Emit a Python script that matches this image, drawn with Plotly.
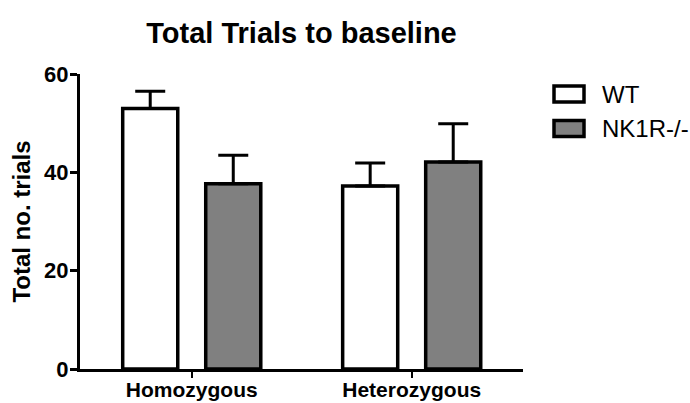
import plotly.graph_objects as go

categories = ["Homozygous", "Heterozygous"]
wt_values = [53.0, 37.2]
wt_errors = [3.5, 4.7]
nk_values = [37.7, 42.1]
nk_errors = [5.8, 7.8]
series_names = ["WT", "NK1R-/-"]
y_ticks = [0, 20, 40, 60]

FONT = "Liberation Sans, Arial, sans-serif"

# plot area pixels
L, R, T, B = 80, 523, 74, 369
W, H = 690, 403

def px_x(px):
    return (px - L) / (R - L)

def px_y(py):
    return (B - py) / (B - T)

fig = go.Figure()
fig.add_trace(go.Bar(
    x=categories, y=wt_values, name=series_names[0],
    marker=dict(color="white", line=dict(color="black", width=3.5)),
    error_y=dict(type="data", array=wt_errors, arrayminus=[0, 0], symmetric=False,
                 color="black", thickness=3, width=15),
    showlegend=False,
))
fig.add_trace(go.Bar(
    x=categories, y=nk_values, name=series_names[1],
    marker=dict(color="#808080", line=dict(color="black", width=3.5)),
    error_y=dict(type="data", array=nk_errors, arrayminus=[0, 0], symmetric=False,
                 color="black", thickness=3, width=15),
    showlegend=False,
))

shapes = []
annotations = []
legend_fill = ["white", "#808080"]
legend_rows = [(85, 103), (119.5, 137.5)]
for name, fill, (y0, y1) in zip(series_names, legend_fill, legend_rows):
    shapes.append(dict(type="rect", xref="paper", yref="paper",
                       x0=px_x(554), x1=px_x(584), y0=px_y(y1 - 1), y1=px_y(y0 + 1),
                       fillcolor=fill, line=dict(color="black", width=3.5)))
    annotations.append(dict(xref="paper", yref="paper", x=px_x(600), y=px_y((y0 + y1) / 2),
                            text=name, showarrow=False, xanchor="left", yanchor="middle",
                            font=dict(family=FONT, size=24, color="black")))

fig.update_layout(
    width=W, height=H,
    margin=dict(l=L, r=W - R, t=T, b=H - B, pad=0, autoexpand=False),
    paper_bgcolor="white", plot_bgcolor="white",
    barmode="group", bargap=0.245, bargroupgap=0.337,
    title=dict(text="Total Trials to baseline", x=(L + R) / 2 / W, xanchor="center",
               y=1 - 33 / H, yanchor="middle", yref="container",
               font=dict(family=FONT, size=29, color="black", weight="bold")),
    shapes=shapes, annotations=annotations,
    font=dict(family=FONT, color="black"),
)
fig.update_xaxes(
    type="category", range=[-0.508, 1.506], automargin=False,
    showline=True, linecolor="black", linewidth=3,
    ticks="outside", ticklen=6, tickwidth=2, tickcolor="black",
    ticklabelstandoff=-6,
    tickfont=dict(family=FONT, size=21, color="black", weight="bold"),
    showgrid=False, zeroline=False,
)
fig.update_yaxes(
    range=[0, 60], tickvals=y_ticks, ticktext=[str(v) for v in y_ticks], automargin=False,
    showline=True, linecolor="black", linewidth=3,
    ticks="outside", ticklen=7, tickwidth=2.5, tickcolor="black",
    ticklabelstandoff=-3,
    tickfont=dict(family=FONT, size=22, color="black", weight="bold"),
    title=dict(text="Total no. trials", standoff=7,
               font=dict(family=FONT, size=24, color="black", weight="bold")),
    showgrid=False, zeroline=False,
)

fig.write_html("out.html")
